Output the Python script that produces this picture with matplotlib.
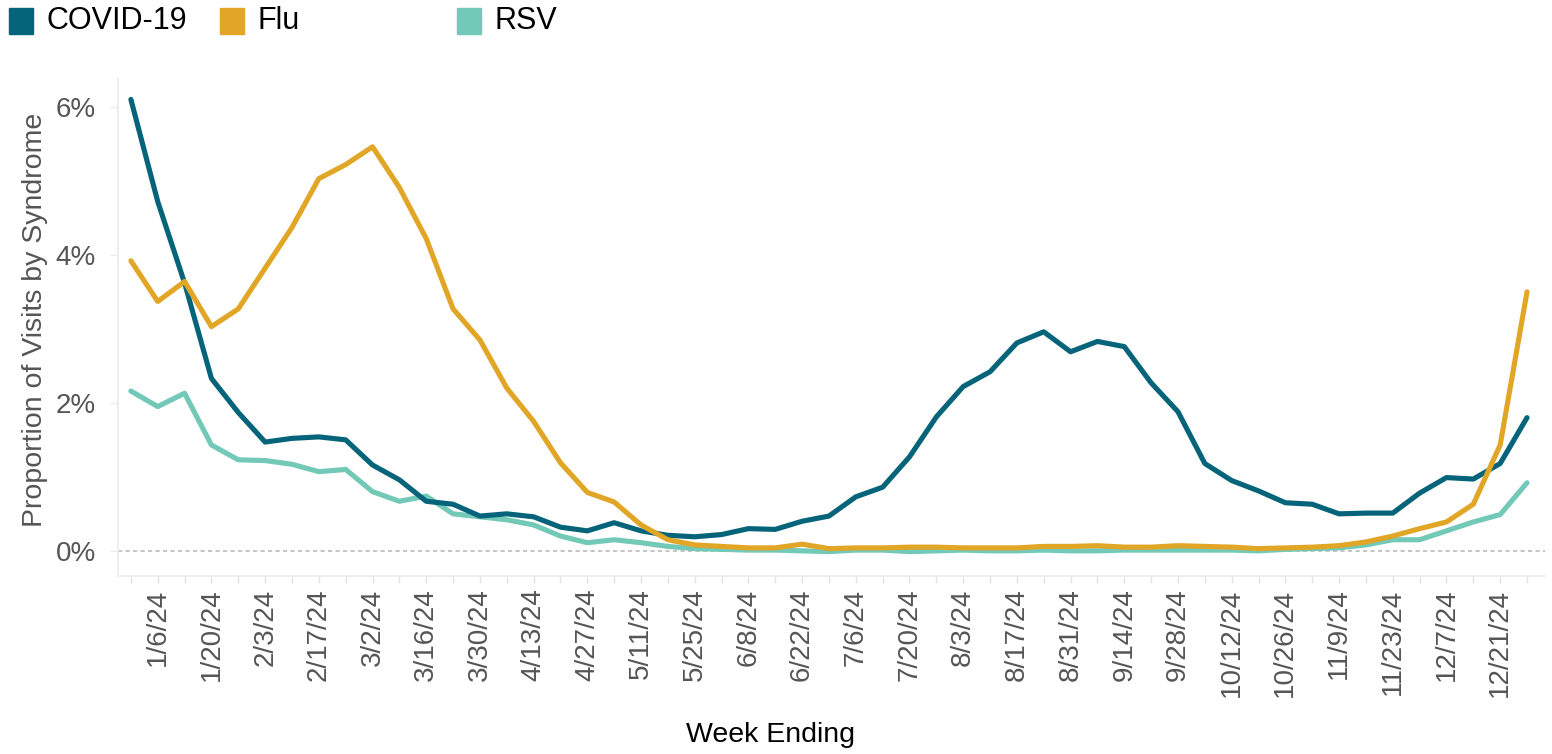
import matplotlib

matplotlib.use("Agg")
import matplotlib.pyplot as plt
import pandas as pd
from matplotlib.patches import Rectangle
from matplotlib.ticker import FuncFormatter

plt.rcParams["font.family"] = ["Liberation Sans", "DejaVu Sans"]

# week-ending dates, 12/30/23 .. 12/28/24
weeks = pd.date_range("2023-12-30", periods=53, freq="7D")

covid = [6.10, 4.72, 3.62, 2.33, 1.87, 1.47, 1.52, 1.54, 1.50, 1.16,
         0.96, 0.67, 0.63, 0.47, 0.50, 0.46, 0.32, 0.27, 0.38, 0.27,
         0.21, 0.19, 0.22, 0.30, 0.29, 0.40, 0.47, 0.73, 0.86, 1.27,
         1.81, 2.22, 2.42, 2.81, 2.96, 2.69, 2.83, 2.76, 2.27, 1.88,
         1.18, 0.95, 0.81, 0.65, 0.63, 0.50, 0.51, 0.51, 0.78, 0.99,
         0.97, 1.18, 1.80]
flu = [3.92, 3.37, 3.64, 3.03, 3.27, 3.82, 4.37, 5.03, 5.22, 5.46,
       4.91, 4.22, 3.27, 2.85, 2.20, 1.75, 1.19, 0.79, 0.66, 0.35,
       0.15, 0.08, 0.06, 0.04, 0.04, 0.09, 0.03, 0.04, 0.04, 0.05,
       0.05, 0.04, 0.04, 0.04, 0.06, 0.06, 0.07, 0.05, 0.05, 0.07,
       0.06, 0.05, 0.03, 0.04, 0.05, 0.07, 0.12, 0.20, 0.30, 0.39,
       0.63, 1.43, 3.50]
rsv = [2.16, 1.95, 2.13, 1.43, 1.23, 1.22, 1.17, 1.07, 1.10, 0.80,
       0.67, 0.74, 0.50, 0.46, 0.42, 0.35, 0.20, 0.11, 0.15, 0.11,
       0.06, 0.03, 0.02, 0.01, 0.01, 0.00, -0.01, 0.01, 0.01, -0.01,
       0.00, 0.01, 0.00, 0.00, 0.01, 0.00, 0.00, 0.01, 0.01, 0.01,
       0.01, 0.01, 0.00, 0.02, 0.03, 0.04, 0.08, 0.15, 0.15, 0.27,
       0.39, 0.49, 0.92]

names = ["COVID-19", "Flu", "RSV"]
colors = {"COVID-19": "#05647A", "Flu": "#E2A626", "RSV": "#72C9B7"}
y_ticks = [0, 2, 4, 6]

GREY_TEXT = "#555555"
FAINT = "#ebebeb"

fig = plt.figure(figsize=(15.52, 7.54), dpi=100)
ax = fig.add_axes([118 / 1552, 1 - 576 / 754, (1545 - 118) / 1552, (576 - 78) / 754])

ax.axhline(0, color="#bbbbbb", lw=1.2, ls=(0, (2.5, 2)), zorder=1)

series = {"COVID-19": covid, "Flu": flu, "RSV": rsv}
for name, z in [("RSV", 2), ("COVID-19", 3), ("Flu", 4)]:
    ax.plot(weeks, series[name], color=colors[name], lw=3.7,
            solid_joinstyle="round", solid_capstyle="round", zorder=z)

# axes limits
step = pd.Timedelta(days=7)
ax.set_xlim(weeks[0] - 0.48 * step, weeks[-1] + 0.67 * step)
ax.set_ylim(-0.34, 6.39)

# x ticks: a mark every week, label every other week
ax.set_xticks(weeks)
ax.set_xticklabels([f"{d.month}/{d.day}/{d.strftime('%y')}" if i % 2 == 1 else ""
                    for i, d in enumerate(weeks)],
                   rotation=90, fontsize=20, color=GREY_TEXT)
ax.tick_params(axis="x", length=5, width=1, color="#e3e3e3", pad=4)

ax.set_yticks(y_ticks)
ax.yaxis.set_major_formatter(FuncFormatter(lambda v, _: f"{v:.0f}%"))
ax.tick_params(axis="y", labelsize=20, labelcolor=GREY_TEXT, length=6,
               width=1, color=FAINT, pad=10)

for side in ["top", "right"]:
    ax.spines[side].set_visible(False)
for side in ["left", "bottom"]:
    ax.spines[side].set_color(FAINT)
    ax.spines[side].set_linewidth(1.2)

fig.text(35 / 1552, 1 - 320 / 754, "Proportion of Visits by Syndrome",
         rotation=90, ha="center", va="center", fontsize=20.5, color=GREY_TEXT)
fig.text(771 / 1552, 1 - 735 / 754, "Week Ending", ha="center", va="center",
         fontsize=20.5, color="black")

# legend across the top
legend_x = [9, 220, 457]
for name, x0 in zip(names, legend_x):
    fig.add_artist(Rectangle((x0 / 1552, 1 - 34 / 754), 24 / 1552, 26 / 754,
                             transform=fig.transFigure, color=colors[name]))
    fig.text((x0 + 38) / 1552, 1 - 21 / 754, name, ha="left", va="center",
             fontsize=22, color="black")

fig.savefig("out.png", dpi=100, facecolor="white")
